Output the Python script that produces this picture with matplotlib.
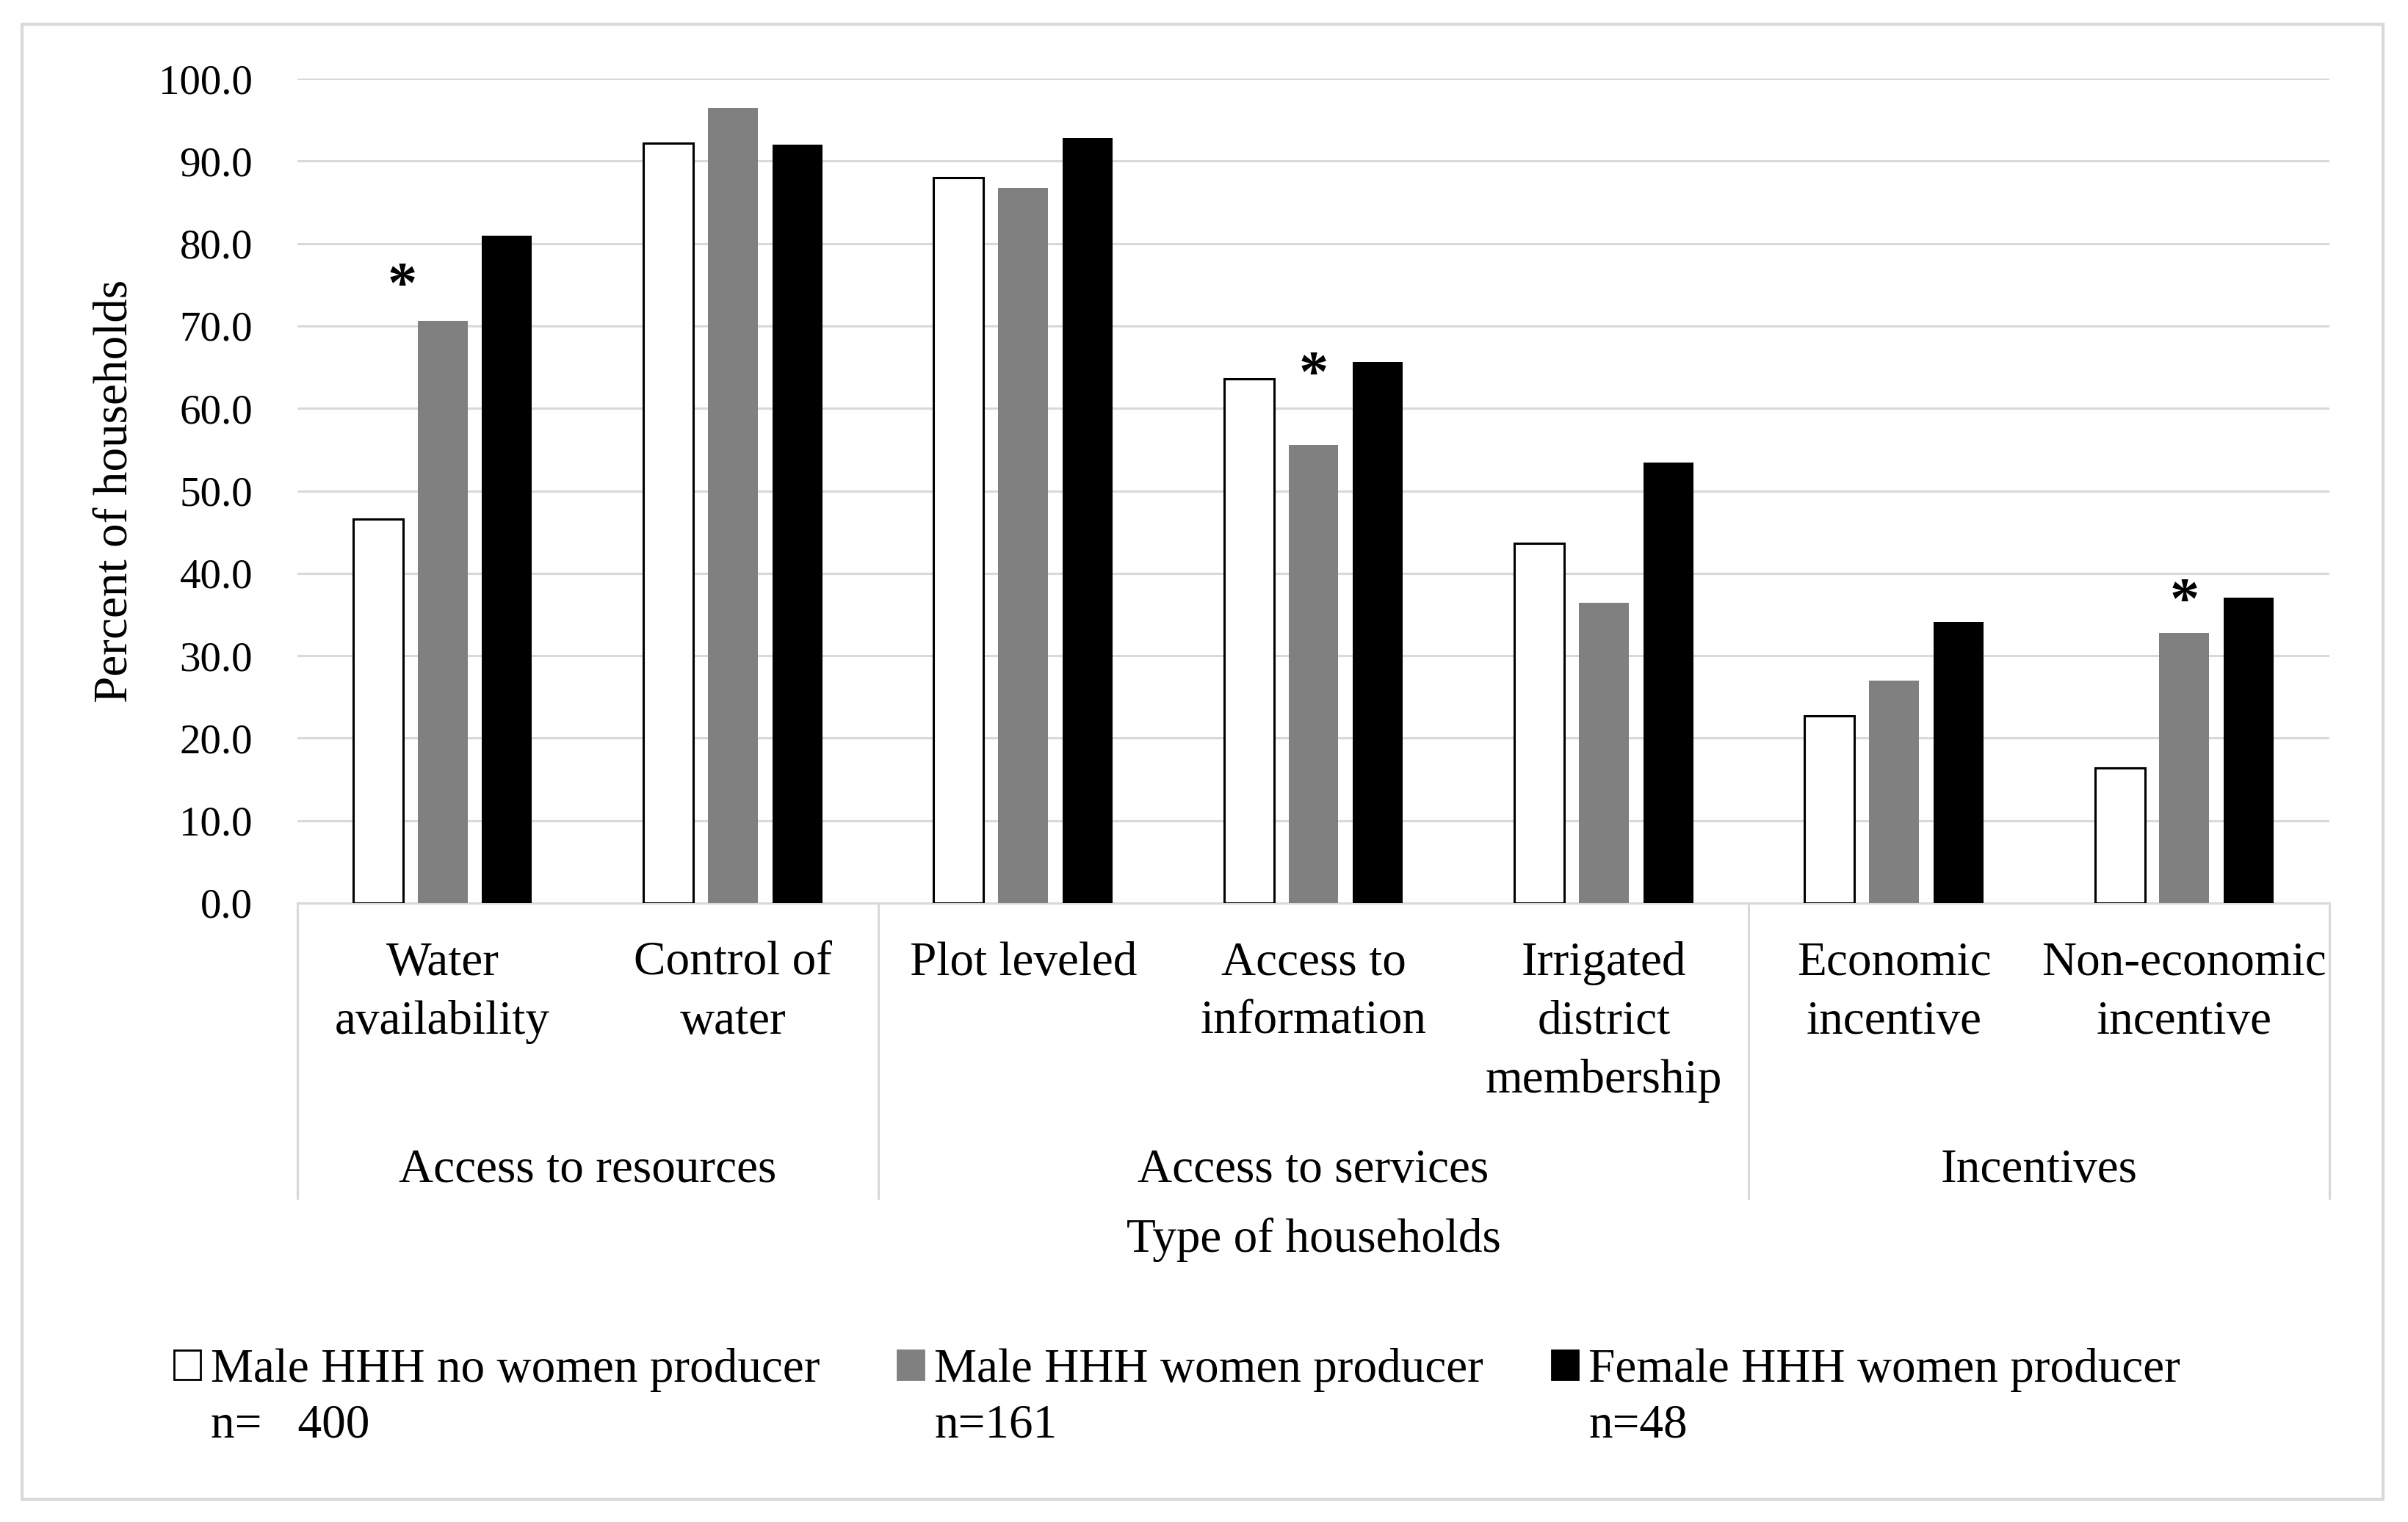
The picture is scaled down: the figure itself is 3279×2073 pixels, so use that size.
import matplotlib
matplotlib.use("Agg")
import matplotlib.pyplot as plt
from matplotlib.patches import Patch, Rectangle
import matplotlib.transforms as mtransforms
import numpy as np

# ---------------- data ----------------
categories = ["Water\navailability", "Control of\nwater", "Plot leveled",
              "Access to\ninformation", "Irrigated\ndistrict\nmembership",
              "Economic\nincentive", "Non-economic\nincentive"]
groups = ["Access to resources", "Access to services", "Incentives"]
group_sizes = [2, 3, 2]
series_names = ["Male HHH no women producer", "Male HHH women producer",
                "Female HHH women producer"]
series_n = ["n=   400", "n=161", "n=48"]
male_no_women = [46.6, 92.2, 88.0, 63.6, 43.6, 22.7, 16.4]
male_women = [70.6, 96.4, 86.7, 55.6, 36.4, 27.0, 32.8]
female_women = [80.9, 92.0, 92.8, 65.6, 53.4, 34.1, 37.0]
yticks = [0, 10, 20, 30, 40, 50, 60, 70, 80, 90, 100]
star_categories = [0, 3, 6]        # categories with a significance star
star_values = [74.6, 63.8, 36.3]    # vertical position of stars
ylabel = "Percent of households"
xlabel = "Type of households"

# ---------------- style ----------------
W, H, DPI = 3279, 2073, 100
FONT = "Liberation Serif"
FS = 47
TFS = 41
GRID = "#d9d9d9"
plt.rcParams["font.family"] = [FONT, "DejaVu Serif"]

fig = plt.figure(figsize=(W / DPI, H / DPI), dpi=DPI)
left, right = 405 / W, 3172 / W
bottom, top = 1 - 1230 / H, 1 - 107 / H
ax = fig.add_axes([left, bottom, right - left, top - bottom])

x = np.arange(len(categories))
bw = 0.172
off = 0.222
ax.bar(x - off, male_no_women, bw, facecolor="white", edgecolor="black", linewidth=2.2, zorder=3)
ax.bar(x, male_women, bw, facecolor="#808080", edgecolor="none", zorder=3)
ax.bar(x + off, female_women, bw, facecolor="black", edgecolor="none", zorder=3)

ax.set_xlim(-0.5, len(categories) - 0.5)
ax.set_ylim(0, 100)
ax.set_yticks(yticks)
ax.set_yticklabels([f"{v:.1f}" for v in yticks])
ax.tick_params(axis="y", length=0, pad=44, labelsize=TFS)
ax.set_xticks([])
ax.yaxis.grid(True, color=GRID, linewidth=2.2)
ax.set_axisbelow(True)
for s in ["top", "right", "left"]:
    ax.spines[s].set_visible(False)
ax.spines["bottom"].set_color(GRID)
ax.spines["bottom"].set_linewidth(2.2)

ax.set_ylabel(ylabel, fontsize=FS)
ax.yaxis.set_label_coords(-0.0895, 0.5)
ax.yaxis.label.set_verticalalignment("center")

# significance stars
star_dx = {0: -0.14}
for c, v in zip(star_categories, star_values):
    ax.text(c + star_dx.get(c, 0.0), v, "*", ha="center", va="center",
            fontsize=58, fontweight="bold", zorder=4)

# multi-level category axis
trans = mtransforms.blended_transform_factory(ax.transData, ax.transAxes)
pix = 1 / 1123.0
for i, lab in enumerate(categories):
    for k, line in enumerate(lab.split("\n")):
        ax.text(i, (-98 - 80 * k) * pix, line, transform=trans, ha="center",
                va="baseline", fontsize=FS)
bounds = np.concatenate([[0], np.cumsum(group_sizes)]) - 0.5
for b in bounds:
    ax.plot([b, b], [0, -402 * pix], transform=trans, color=GRID,
            linewidth=2.2, clip_on=False)
for g, a, b in zip(groups, bounds[:-1], bounds[1:]):
    ax.text((a + b) / 2, -380 * pix, g, transform=trans, ha="center",
            va="baseline", fontsize=FS)
ax.text(0.5, -475 * pix, xlabel, transform=ax.transAxes, ha="center",
        va="baseline", fontsize=FS)

# legend (one entry each, positioned like the original)
colors = [("white", "black"), ("#808080", "#808080"), ("black", "black")]
leg_x = [237, 1222, 2113]
legends = []
for name, (fc, ec), lx in zip(series_names, colors, leg_x):
    h = Patch(facecolor=fc, edgecolor=ec, linewidth=2)
    leg = fig.legend([h], [name], loc="center left",
                     bbox_to_anchor=(lx / W, 1 - 1866 / H),
                     frameon=False, fontsize=FS, handlelength=0.55,
                     handleheight=0.55, handletextpad=0.22, borderpad=0,
                     borderaxespad=0)
    legends.append(leg)

fig.canvas.draw()
for leg, nlab in zip(legends, series_n):
    bb = leg.get_texts()[0].get_window_extent()
    fig.text(bb.x0 / W, 1 - 1958 / H, nlab, ha="left", va="baseline", fontsize=FS)

# outer frame
fig.patches.append(Rectangle((30 / W, 1 - 2042 / H), (3245 - 30) / W, (2042 - 33) / H,
                             transform=fig.transFigure, fill=False,
                             edgecolor=GRID, linewidth=3))

fig.savefig("out.png", dpi=DPI, facecolor="white")
